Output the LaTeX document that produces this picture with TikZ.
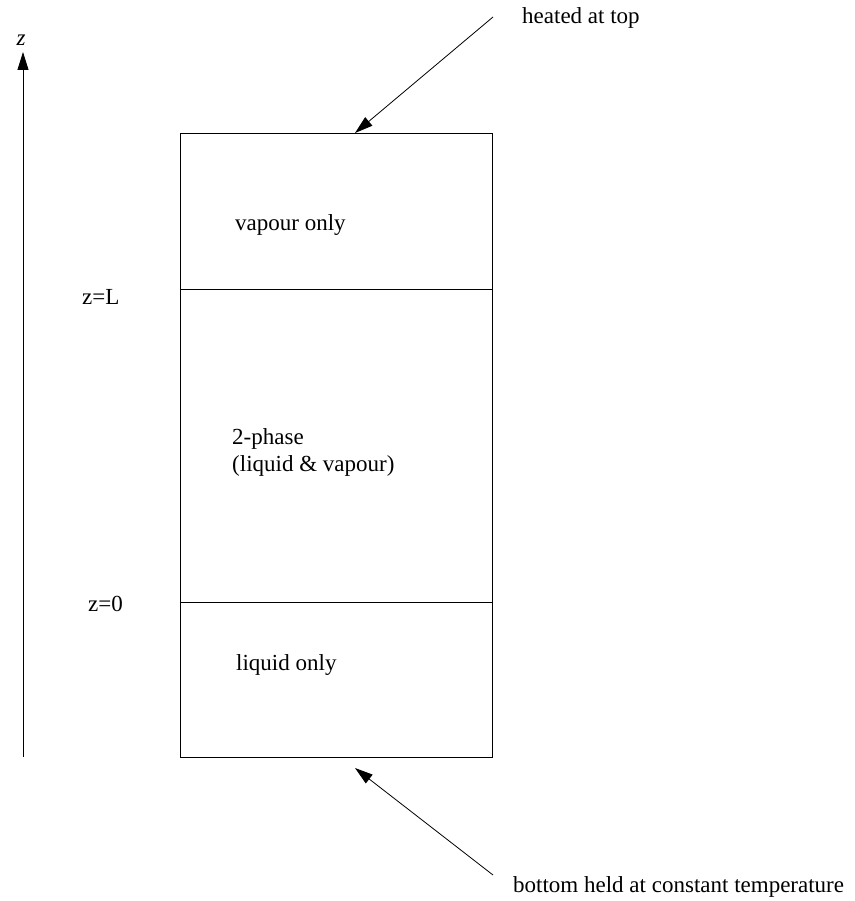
\documentclass[tikz,border=0pt]{standalone}
\usepackage{fontspec}
\setmainfont{Liberation Serif}
\usetikzlibrary{arrows.meta}
\begin{document}
\begin{tikzpicture}[x=1pt,y=-1pt,
  lbl/.style={font=\fontsize{23}{27}\selectfont, inner sep=0pt},
  arr/.style={-{Triangle[length=18pt,width=11pt]}, line width=0.8pt},
  wall/.style={line width=0.9pt}]
\useasboundingbox (0,0) rectangle (854,901);
% container
\draw[wall] (180,133) rectangle (492,757);
\draw[wall] (180,289) -- (492,289);
\draw[wall] (180,602) -- (492,602);
% z axis
\coordinate (zb) at (23,757);
\coordinate (zt) at (23,52);
\draw[arr] (zb) -- (zt);
\node[lbl] (zlab) at (21,40) {\textit{z}};
% level labels
\node[lbl, anchor=west] (zL) at (82,297) {z=L};
\node[lbl, anchor=west] (z0) at (88,604) {z=0};
% region labels
\node[lbl, anchor=west] (vap) at (235,225) {vapour only};
\node[lbl, anchor=west, align=left] (two) at (232,452) {2-phase\\(liquid \& vapour)};
\node[lbl, anchor=west] (liq) at (236,665) {liquid only};
% top arrow
\coordinate (tstart) at (493,17);
\coordinate (ttip) at (355,133);
\draw[arr] (tstart) -- (ttip);
\node[lbl, anchor=west] (heat) at (522,18) {heated at top};
% bottom arrow
\coordinate (bstart) at (493,875);
\coordinate (btip) at (355,768);
\draw[arr] (bstart) -- (btip);
\node[lbl, anchor=west] (bot) at (513,887) {bottom held at constant temperature};
\end{tikzpicture}
\end{document}
